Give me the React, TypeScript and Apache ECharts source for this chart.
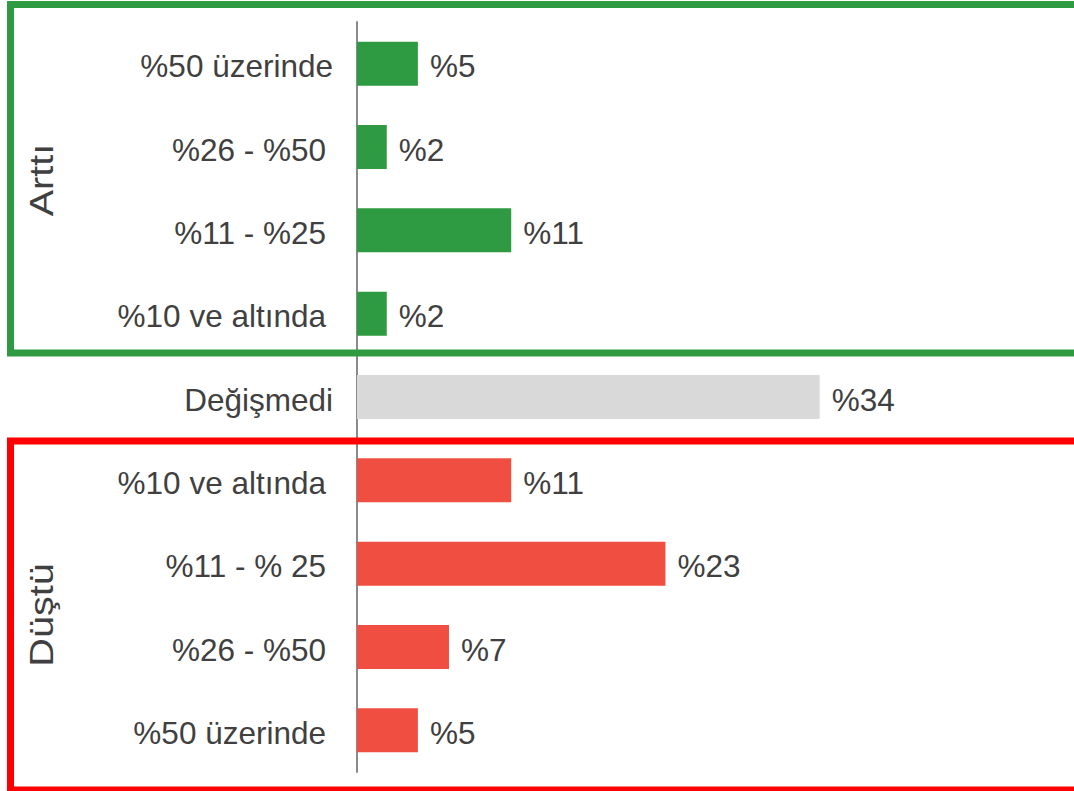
import React, { useEffect, useRef } from "react";
import * as echarts from "echarts";

const categories = [
  "%50 üzerinde",
  "%26 - %50",
  "%11 - %25",
  "%10 ve altında",
  "Değişmedi",
  "%10 ve altında",
  "%11 - % 25",
  "%26 - %50",
  "%50 üzerinde",
];
const values = [4.5, 2.2, 11.4, 2.2, 34.2, 11.4, 22.8, 6.8, 4.5];
const groups = ["up", "up", "up", "up", "same", "down", "down", "down", "down"];
const groupColors: Record<string, string> = { up: "#2e9a41", same: "#d9d9d9", down: "#f04e40" };
const groupTitles = ["Arttı", "Düştü"];

export default function App() {
  const ref = useRef<HTMLDivElement>(null);
  useEffect(() => {
    if (!ref.current) return;
    const chart = echarts.init(ref.current, undefined, { renderer: "svg" });
    const font = "'Liberation Sans', Arial, sans-serif";
    chart.setOption({
      animation: false,
      grid: { left: 357, top: 22, right: 0, bottom: 19, containLabel: false },
      xAxis: {
        type: "value",
        min: 0,
        max: 53,
        show: false,
      },
      yAxis: {
        type: "category",
        inverse: true,
        data: categories,
        axisLine: { show: true, lineStyle: { color: "#8a8a8a", width: 2 } },
        axisTick: { show: false },
        splitLine: { show: false },
        axisLabel: {
          margin: 24,
          fontSize: 31.5,
          fontFamily: font,
          color: "#404040",
          formatter: (v: string, i: number) => (i === 0 || i === 4 ? `{a|${v}}` : `{b|${v}}`),
          rich: {
            a: { fontSize: 31.5, fontFamily: font, color: "#404040", padding: [5, 0, 0, 0] },
            b: { fontSize: 31.5, fontFamily: font, color: "#404040", padding: [5, 7, 0, 0] },
          },
        },
      },
      series: [
        {
          type: "bar",
          barWidth: 44,
          data: values.map((v, i) => ({ value: v, itemStyle: { color: groupColors[groups[i]] } })),
          label: {
            show: true,
            position: "right",
            distance: 12,
            offset: [0, 2.5],
            fontSize: 31.5,
            fontFamily: font,
            color: "#404040",
            formatter: (p: any) => "%" + Math.round(p.value),
          },
        },
      ],
      graphic: [
        {
          type: "rect",
          shape: { x: 10.5, y: 4.5, width: 1100, height: 348.5 },
          style: { fill: "none", stroke: "#2e9a41", lineWidth: 7 },
          z: 10,
        },
        {
          type: "rect",
          shape: { x: 10.5, y: 441, width: 1100, height: 349 },
          style: { fill: "none", stroke: "#ff0000", lineWidth: 7 },
          z: 10,
        },
        {
          type: "text",
          x: 42,
          y: 180,
          rotation: Math.PI / 2,
          scaleX: 1.2,
          style: {
            text: groupTitles[0],
            fontSize: 33,
            fontFamily: font,
            fill: "#404040",
            align: "center",
            verticalAlign: "middle",
          },
        },
        {
          type: "text",
          x: 42,
          y: 615,
          rotation: Math.PI / 2,
          scaleX: 1.2,
          style: {
            text: groupTitles[1],
            fontSize: 33,
            fontFamily: font,
            fill: "#404040",
            align: "center",
            verticalAlign: "middle",
          },
        },
      ],
    });
    return () => chart.dispose();
  }, []);
  return (
    <div
      ref={ref}
      style={{ position: "fixed", left: 0, top: 0, width: 1074, height: 791, background: "#fff" }}
    />
  );
}
